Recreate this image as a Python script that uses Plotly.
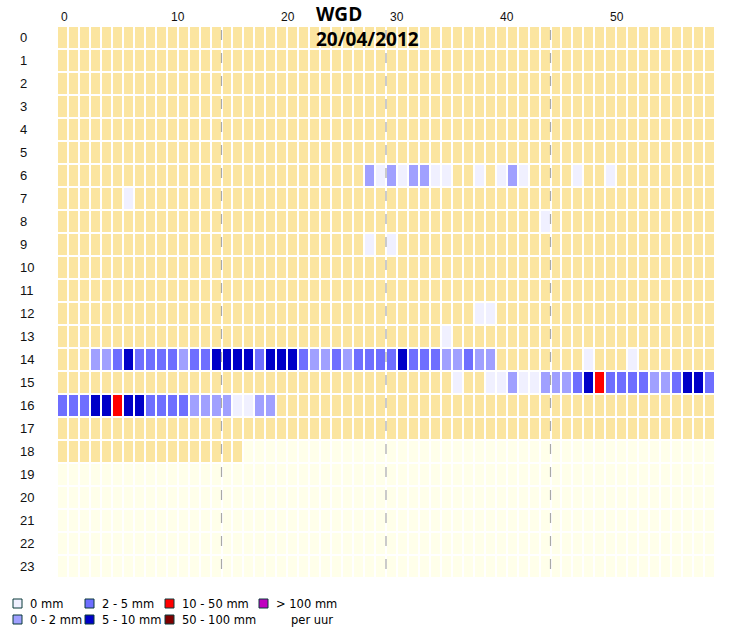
import plotly.graph_objects as go

# Station and day
station = "WGD"
date_label = "20/04/2012"

hours = list(range(24))
minutes = list(range(60))
minute_labels = [0, 10, 20, 30, 40, 50]
quarter_minutes = [15, 30, 45]

# last minute that has been measured (later cells are still empty)
last_hour = 18
last_minute = 16

# rain class per minute for the hours with any rain
# "." dry, "0" 0 mm, "1" 0-2, "2" 2-5, "3" 5-10, "4" 10-50, "5" 50-100, "6" > 100
rain_06 = ".........." ".........." "........10" "101100..0." "010....0.." "0........."
rain_07 = "......0..." ".........." ".........." ".........." ".........." ".........."
rain_08 = ".........." ".........." ".........." ".........." "....0....." ".........."
rain_09 = ".........." ".........." "........0." "0........." ".........." ".........."
rain_12 = ".........." ".........." ".........." "........00" ".........." ".........."
rain_13 = ".........." ".........." ".........." ".....0...." ".........." ".........."
rain_14 = "...1123222" "2122333323" "3321121222" "2322211211" "........0." "..0......."
rain_15 = ".........." ".........." ".........." "......0..0" "0100111234" "2222112332"
rain_16 = "2223343322" "2211110011" ".........." ".........." ".........." ".........."

class_labels = ["0 mm", "0 - 2 mm", "2 - 5 mm", "5 - 10 mm", "10 - 50 mm", "50 - 100 mm", "> 100 mm"]
class_colors = ["#F0F0FF", "#A0A0FF", "#6E6EFF", "#0000C8", "#FF0000", "#800000", "#C000C0"]
future_color = "#FFFFEA"
dry_color = "#FBE5A0"
unit_label = "per uur"

rain_rows = {6: rain_06, 7: rain_07, 8: rain_08, 9: rain_09, 12: rain_12,
             13: rain_13, 14: rain_14, 15: rain_15, 16: rain_16}

# 0 = not measured yet, 1 = dry, 2.. = rain classes
z = []
for h in hours:
    codes = rain_rows.get(h, "." * 60)
    row = []
    for m in minutes:
        if (h, m) > (last_hour, last_minute):
            row.append(0)
        elif codes[m] == ".":
            row.append(1)
        else:
            row.append(int(codes[m]) + 2)
    z.append(row)

all_colors = [future_color, dry_color] + class_colors
n = len(all_colors)
colorscale = []
for k, c in enumerate(all_colors):
    colorscale.append([k / n, c])
    colorscale.append([(k + 1) / n, c])

W, H = 745, 632
ml, mr, mt, mb = 57, 30, 26, 54
pw, ph = W - ml - mr, H - mt - mb


def fx(px):
    return (px - ml) / pw


def fy(py):
    return (H - mb - py) / ph


fig = go.Figure(go.Heatmap(
    z=z, x=minutes, y=hours,
    colorscale=colorscale, zmin=-0.5, zmax=n - 0.5,
    showscale=False, xgap=2, ygap=2,
    hovertemplate="%{y}:%{x}<extra></extra>",
))

shapes = []
for q in quarter_minutes:
    shapes.append(dict(type="line", xref="x", yref="y", x0=q - 0.5, x1=q - 0.5,
                       y0=-0.5, y1=23.5,
                       line=dict(color="#A8A8A8", width=1.2, dash="0px,4px,10px,9px")))

annotations = []
# hour labels, left aligned
for h in hours:
    annotations.append(dict(x=fx(18), xref="paper", y=h, yref="y", text=str(h),
                            showarrow=False, xanchor="left", yanchor="middle",
                            font=dict(family="Liberation Sans", size=13, color="#111")))
# minute labels on top
for m in minute_labels:
    annotations.append(dict(x=m, xref="x", y=fy(17.5), yref="paper", text=str(m),
                            showarrow=False, xanchor="left", yanchor="middle", xshift=-3,
                            font=dict(family="Liberation Sans", size=12, color="#111")))
# title
annotations.append(dict(x=fx(314), xref="paper", y=fy(14), yref="paper", text="<b>%s</b>" % station,
                        showarrow=False, xanchor="left", yanchor="middle",
                        font=dict(family="Open Sans", size=19, color="#000")))
annotations.append(dict(x=fx(314), xref="paper", y=fy(39), yref="paper", text="<b>%s</b>" % date_label,
                        showarrow=False, xanchor="left", yanchor="middle",
                        font=dict(family="Open Sans", size=19, color="#000")))

# legend: two rows, filled column by column
col_px = [13, 85, 165, 259]
row_py = [603.5, 619.5]
for i, (lab, col) in enumerate(zip(class_labels, class_colors)):
    cx = col_px[i // 2]
    cy = row_py[i % 2]
    shapes.append(dict(type="rect", xref="paper", yref="paper",
                       x0=fx(cx), x1=fx(cx + 9), y0=fy(cy + 4.5), y1=fy(cy - 4.5),
                       fillcolor=col, line=dict(color="#0B3B3B", width=1)))
    annotations.append(dict(x=fx(cx + 15), xref="paper", y=fy(cy), yref="paper", text=lab,
                            showarrow=False, xanchor="left", yanchor="middle",
                            font=dict(family="DejaVu Sans", size=11.5, color="#000")))
annotations.append(dict(x=fx(289), xref="paper", y=fy(row_py[1]), yref="paper", text=unit_label,
                        showarrow=False, xanchor="left", yanchor="middle",
                        font=dict(family="DejaVu Sans", size=11.5, color="#000")))

fig.update_layout(
    width=W, height=H,
    margin=dict(l=ml, r=mr, t=mt, b=mb, pad=0),
    paper_bgcolor="white", plot_bgcolor="white",
    xaxis=dict(range=[-0.5, 59.5], showgrid=False, zeroline=False, showticklabels=False,
               showline=False, fixedrange=True),
    yaxis=dict(range=[23.5, -0.5], showgrid=False, zeroline=False, showticklabels=False,
               showline=False, fixedrange=True),
    shapes=shapes, annotations=annotations,
    showlegend=False,
)

# the page's default body margin would push the figure 8px down and right
fig.write_html("out.html", config={"displayModeBar": False},
               post_script="document.body.style.margin='0';")
